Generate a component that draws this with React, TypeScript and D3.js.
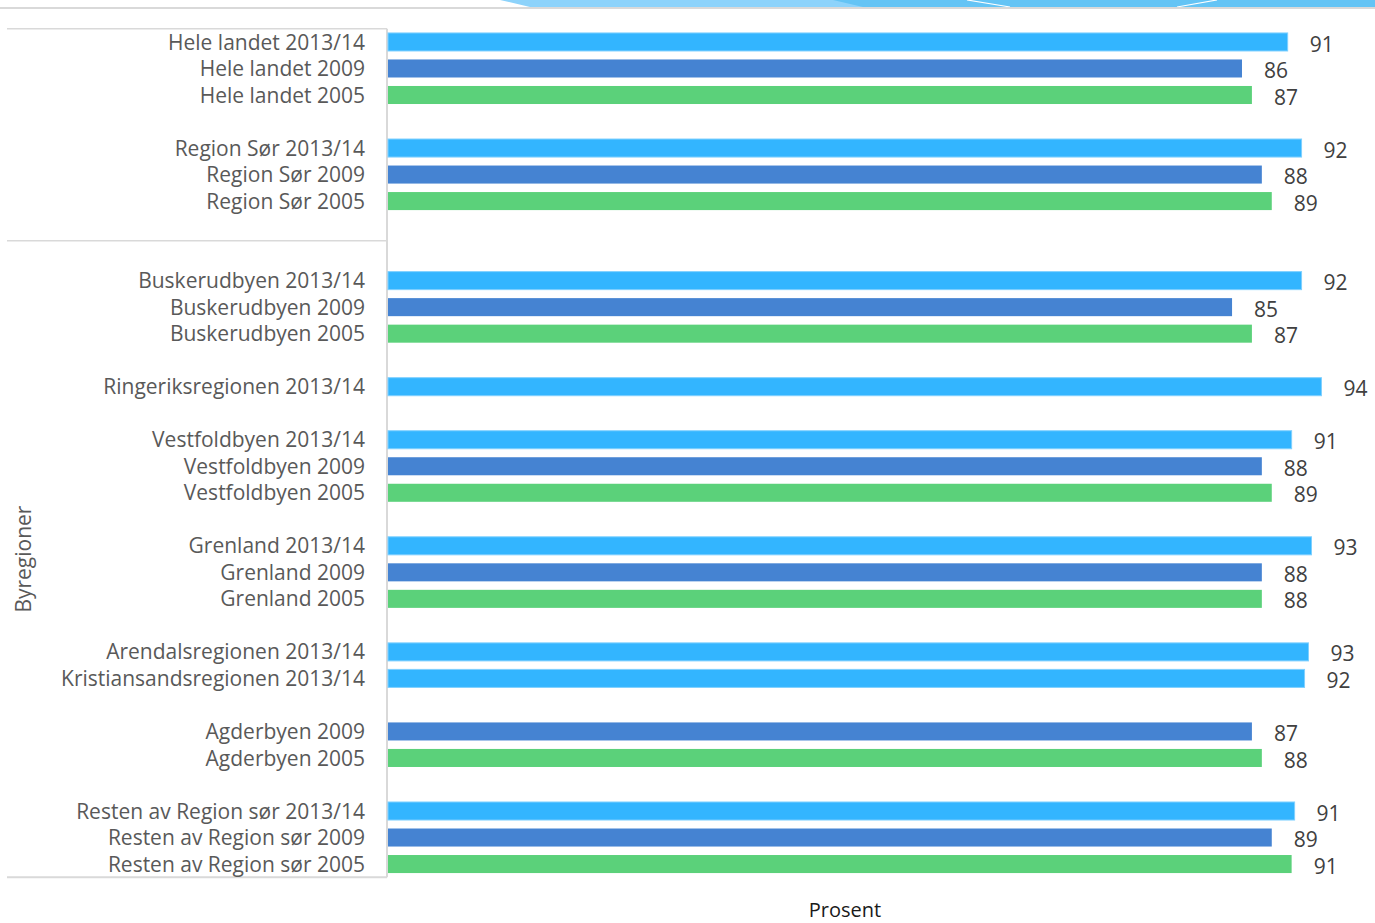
import React from "react";
import * as d3 from "d3";

const categories: string[] = [
  "Hele landet 2013/14", "Hele landet 2009", "Hele landet 2005", "",
  "Region Sør 2013/14", "Region Sør 2009", "Region Sør 2005", "", "",
  "Buskerudbyen 2013/14", "Buskerudbyen 2009", "Buskerudbyen 2005", "",
  "Ringeriksregionen 2013/14", "",
  "Vestfoldbyen 2013/14", "Vestfoldbyen 2009", "Vestfoldbyen 2005", "",
  "Grenland 2013/14", "Grenland 2009", "Grenland 2005", "",
  "Arendalsregionen 2013/14", "Kristiansandsregionen 2013/14", "",
  "Agderbyen 2009", "Agderbyen 2005", "",
  "Resten av Region sør 2013/14", "Resten av Region sør 2009", "Resten av Region sør 2005",
];

const values: (number | null)[] = [
  90.6, 86, 87, null,
  92, 88, 89, null, null,
  92, 85, 87, null,
  94, null,
  91, 88, 89, null,
  93, 88, 88, null,
  92.7, 92.3, null,
  87, 88, null,
  91.3, 89, 91,
];

const seriesNames = ["2013/14", "2009", "2005"];
const seriesColors = ["#33B5FF", "#4583D2", "#5BD17A"];

const groupNames = ["", "Byregioner"];
const groupStarts = [0, 8];
const groupEnds = [8, 32];

const xTitle = "Prosent";

const W = 1375;
const H = 923;
const FONT = "'Open Sans', 'Noto Sans', sans-serif";

export default function App() {
  const x = d3.scaleLinear().domain([0, 100]).range([388, 1381]);
  const y = d3
    .scaleBand<number>()
    .domain(d3.range(categories.length))
    .range([28.7, 877.3])
    .paddingInner(0.32)
    .paddingOuter(0.16);
  const step = y.step();
  const top = 28.7;
  const slotTop = (i: number) => top + i * step;

  const seriesOf = (c: string) => seriesNames.findIndex((s) => c.endsWith(" " + s));

  return (
    <svg
      width={W}
      height={H}
      style={{ position: "absolute", left: 0, top: 0, display: "block", background: "#fff" }}
      fontFamily={FONT}
    >
      {/* decorative header */}
      <polygon points="500,0 1375,0 1375,7 530,7" fill="#8DD3FB" />
      <polygon points="833,0 1375,0 1375,7 863,7" fill="#64C4F5" />
      <line x1={967} y1={0} x2={1010} y2={7} stroke="#ffffff" strokeWidth={1.2} />
      <line x1={1177} y1={7} x2={1217} y2={0} stroke="#ffffff" strokeWidth={1.2} />
      <line x1={0} y1={8} x2={W} y2={8} stroke="#D9D9D9" strokeWidth={2} />

      {/* category axis box */}
      {groupStarts.map((s, gi) => (
        <line key={"gt" + gi} x1={7} x2={387} y1={slotTop(s)} y2={slotTop(s)} stroke="#D9D9D9" strokeWidth={1.5} />
      ))}
      <line x1={7} x2={387} y1={slotTop(groupEnds[groupEnds.length - 1])} y2={slotTop(groupEnds[groupEnds.length - 1])} stroke="#D9D9D9" strokeWidth={2} />
      <line x1={387} x2={387} y1={slotTop(0)} y2={slotTop(categories.length)} stroke="#D9D9D9" strokeWidth={2} />

      {groupNames.map((g, gi) => {
        const cy = (slotTop(groupStarts[gi]) + slotTop(groupEnds[gi])) / 2;
        return g ? (
          <text
            key={"gn" + gi}
            transform={`translate(31,${cy}) rotate(-90)`}
            textAnchor="middle"
            fontSize={21}
            fill="#595959"
          >
            {g}
          </text>
        ) : null;
      })}

      {/* category labels */}
      {categories.map((c, i) =>
        c ? (
          <text
            key={"c" + i}
            x={365}
            y={(y(i) as number) + y.bandwidth() / 2}
            dy="0.36em"
            textAnchor="end"
            fontSize={21}
            fill="#595959"
          >
            {c}
          </text>
        ) : null
      )}

      {/* bars */}
      {values.map((v, i) => {
        if (v == null) return null;
        const si = seriesOf(categories[i]);
        return (
          <rect
            key={"b" + i}
            x={x(0)}
            y={y(i) as number}
            width={x(v) - x(0)}
            height={y.bandwidth()}
            fill={seriesColors[si]}
            stroke={si === 0 ? "#7FD0FF" : "none"}
            strokeWidth={si === 0 ? 1 : 0}
          />
        );
      })}

      {/* value labels */}
      {values.map((v, i) =>
        v == null ? null : (
          <text
            key={"v" + i}
            x={x(v) + 22}
            y={(y(i) as number) + y.bandwidth() / 2 + 2}
            dy="0.36em"
            fontSize={21}
            fill="#404040"
          >
            {d3.format(".0f")(v)}
          </text>
        )
      )}

      <text x={845} y={917} textAnchor="middle" fontSize={20} fill="#1a1a1a">
        {xTitle}
      </text>
    </svg>
  );
}
